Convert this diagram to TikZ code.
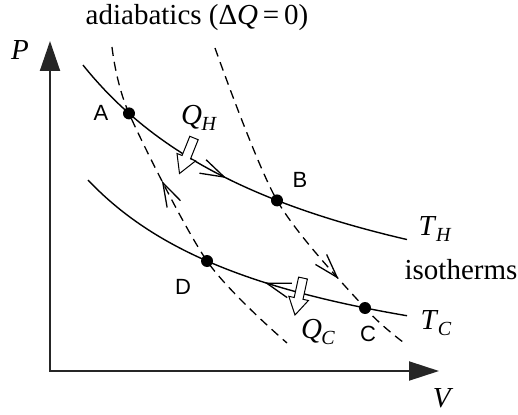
\documentclass[tikz,border=0pt]{standalone}
\usepackage{fontspec}
\setmainfont{Liberation Serif}
\newfontfamily\lsans{Liberation Sans}
\usetikzlibrary{arrows.meta,decorations.markings}
\newcommand{\subsc}[2]{\textit{#1}\kern-0.5pt\raisebox{-0.45ex}{\fontsize{20}{20}\selectfont\textit{#2}}}
\tikzset{mybarb/.tip={Straight Barb[length=24pt,width=15pt,line width=1.3pt]}}
\begin{document}
\begin{tikzpicture}[x=1pt,y=-1pt,
  axis/.style={line width=2pt, draw=black!85, {Triangle[length=30pt,width=20pt]}-{Triangle[length=30pt,width=19pt]}},
  curve/.style={line width=1.4pt},
  adiab/.style={line width=1.3pt, dash pattern=on 9pt off 6pt},
  dot/.style={circle, fill=black, inner sep=0pt, minimum size=12pt},
  ptlabel/.style={font=\lsans\fontsize{22}{22}\selectfont},
  txt/.style={font=\fontsize{29}{31}\selectfont, inner sep=0pt},
  heat/.style={draw, fill=white, line width=1pt, line join=miter}
]
\useasboundingbox (0,0) rectangle (518,414);

% axes
\coordinate (Ptip) at (50,41);
\coordinate (O) at (50,371);
\coordinate (Vtip) at (439,371);
\draw[axis] (Ptip) -- (O) -- (Vtip);
\node[txt] (Plab) at (20,50) {\textit{P}};
\node[txt] (Vlab) at (443,398) {\textit{V}};

% isotherms
\draw[curve, postaction={decorate, decoration={markings, mark=at position 0.49 with {\arrow{mybarb}}}}]
  plot[domain=83:407, samples=60] (\x, {372 - 755/((\x+163)/100)});
\draw[curve, postaction={decorate, decoration={markings, mark=at position 0.585 with {\arrowreversed{mybarb}}}}]
  plot[domain=88:407, samples=60] (\x, {407 - 486.91/((\x+126.5)/100)});

% adiabatics
\draw[adiab, postaction={solid, decorate, decoration={markings, mark=at position 0.41 with {\arrowreversed{mybarb}}}}]
  plot[smooth] coordinates {(112,47) (129,113.4) (207,261) (287,343)};
\draw[adiab, postaction={solid, decorate, decoration={markings, mark=at position 0.735 with {\arrow{mybarb}}}}]
  plot[smooth] coordinates {(215,48) (277,200.4) (365,308) (407,345)};

% state points
\node[dot] (A) at (129,113.4) {};
\node[dot] (B) at (277,200.4) {};
\node[dot] (C) at (365,308) {};
\node[dot] (D) at (207,261) {};
\node[ptlabel] (Alab) at (101,113) {A};
\node[ptlabel] (Blab) at (300,180) {B};
\node[ptlabel] (Clab) at (368,334) {C};
\node[ptlabel] (Dlab) at (183,287) {D};

% heat arrows
\draw[heat] (198.2,139.7) -- (190.5,158.9) -- (195.6,160.9) -- (179.5,173.5) -- (177.0,153.5) -- (182.1,155.5) -- (189.8,136.3) -- cycle;
\draw[heat] (307.4,279.0) -- (303.0,299.3) -- (308.4,300.5) -- (295,315) -- (288.8,296.3) -- (294.2,297.5) -- (298.6,277.1) -- cycle;
\node[txt] (QH) at (199,118) {\subsc{Q}{H}};
\node[txt] (QC) at (318,332) {\subsc{Q}{C}};

% texts
\node[txt] (title) at (197,18) {adiabatics (Δ\textit{Q}\,=\,0)};
\node[txt] (TH) at (435,229) {\subsc{T}{H}};
\node[txt] (TC) at (436,323) {\subsc{T}{C}};
\node[txt] (iso) at (461,270) {isotherms};
\end{tikzpicture}
\end{document}
